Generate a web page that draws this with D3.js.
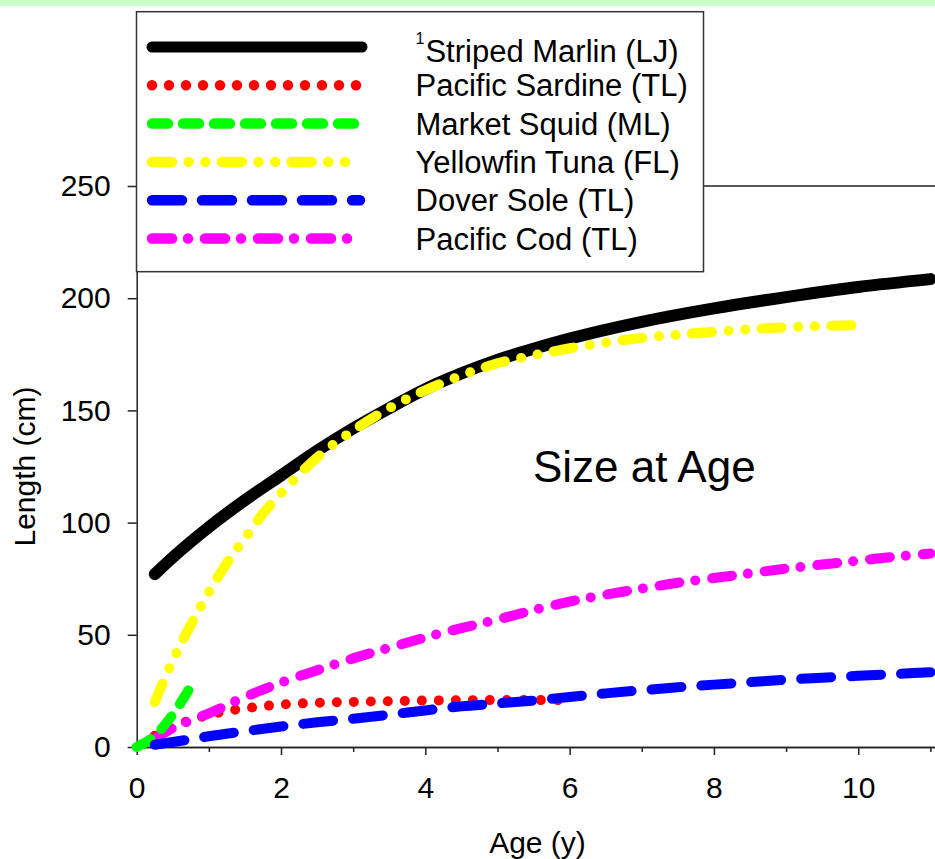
<!DOCTYPE html>
<html>
<head>
<meta charset="utf-8">
<script src="https://cdn.jsdelivr.net/npm/d3@7"></script>
<style>
  body { margin: 0; background: #fff; }
  svg text { font-family: "Liberation Sans", Arial, sans-serif; fill: #000; }
</style>
</head>
<body>
<svg id="canvas"></svg>
<script>
// values
const legendNames = ['Striped Marlin (LJ)', 'Pacific Sardine (TL)', 'Market Squid (ML)', 'Yellowfin Tuna (FL)', 'Dover Sole (TL)', 'Pacific Cod (TL)']

const marlinAge = [0.25, 0.5, 1, 1.5, 2, 2.5, 3, 3.5, 4, 4.5, 5, 5.5, 6, 7, 8, 9, 10, 11]
const marlinLen = [77, 84.5, 98, 110, 121, 132, 142, 151, 159.5, 166.5, 172.5, 177.5, 182, 189.5, 195.5, 200.5, 205, 208.5]

const sardineAge = [0.25, 0.5, 0.75, 1, 1.5, 2, 2.5, 3, 3.5, 4, 5, 5.9]
const sardineLen = [5, 9, 12, 14.3, 17.2, 18.9, 19.7, 20.1, 20.4, 20.7, 20.9, 20.9]

const squidAge = [0, 0.25, 0.5, 0.75]
const squidLen = [0, 5, 14.5, 27]

const tunaAge = [0.25, 0.5, 0.75, 1, 1.25, 1.5, 1.75, 2, 2.5, 3, 3.5, 4, 4.5, 5, 5.5, 6, 6.5, 7, 7.5, 8, 8.5, 9, 9.5, 10]
const tunaLen = [20, 38.5, 54.5, 69, 82, 93, 104, 113, 129, 141, 151, 159, 165.5, 171, 174.5, 177.7, 180.2, 182.3, 183.7, 185, 186.2, 187, 187.6, 188]

const soleAge = [0.25, 0.5, 1, 1.5, 2, 2.5, 3, 3.5, 4, 4.5, 5, 5.5, 6, 6.5, 7, 7.5, 8, 8.5, 9, 9.5, 10, 10.5, 11]
const soleLen = [1, 2.2, 4.8, 7, 9.1, 11, 12.6, 14.4, 16.3, 18.1, 19.4, 20.7, 22.3, 23.9, 25.3, 26.6, 27.8, 28.9, 30, 30.9, 31.7, 32.5, 33.3]

const codAge = [0.25, 0.5, 0.75, 1, 1.5, 2, 2.5, 3, 3.5, 4, 4.5, 5, 5.5, 6, 6.5, 7, 7.5, 8, 8.5, 9, 9.5, 10, 10.5, 11]
const codLen = [3.5, 8.5, 11.8, 15, 22.3, 28.7, 34.2, 39.5, 44.2, 48.8, 53, 56.8, 61, 64.8, 67.9, 70.6, 73.2, 75.3, 77.4, 79.5, 81.3, 83, 84.8, 86.2]

const yTicks = [0, 50, 100, 150, 200, 250]
const xTicks = [0, 2, 4, 6, 8, 10]
const xMinorTicks = [1, 3, 5, 7, 9, 11]

const width = 935
const height = 859

let zip = (a, b) => a.map((v, i) => [v, b[i]])

// legend order, with line style for each
let series = [
  { name: legendNames[0], pts: zip(marlinAge, marlinLen), color: '#000000', w: 12, dash: null },
  { name: legendNames[1], pts: zip(sardineAge, sardineLen), color: '#ff0000', w: 10, dash: '0,17' },
  { name: legendNames[2], pts: zip(squidAge, squidLen), color: '#00ff00', w: 10, dash: '16,15' },
  { name: legendNames[3], pts: zip(tunaAge, tunaLen), color: '#ffff00', w: 10, dash: '20,16.7,0,16.7,0,16.4' },
  { name: legendNames[4], pts: zip(soleAge, soleLen), color: '#0000ff', w: 10, dash: '30,20' },
  { name: legendNames[5], pts: zip(codAge, codLen), color: '#ff00ff', w: 10, dash: '20,16,0,17' }
]

let canvas = d3.select('#canvas')
canvas.attr('width', width).attr('height', height)

canvas.append('rect').attr('width', width).attr('height', height).attr('fill', '#fff')
canvas.append('rect').attr('width', width).attr('height', 6).attr('fill', '#ccffcc')

let xScale = d3.scaleLinear().domain([0, 11.1]).range([136.7, 937.6])
let yScale = d3.scaleLinear().domain([0, 250]).range([747, 186])

// top frame
canvas.append('line')
  .attr('x1', xScale(0)).attr('x2', xScale(11.1))
  .attr('y1', yScale(250)).attr('y2', yScale(250))
  .attr('stroke', '#222').attr('stroke-width', 1.5)

let styleAxis = (g) => {
  g.select('.domain').attr('stroke', '#222').attr('stroke-width', 1.5)
  g.selectAll('.tick line').attr('stroke', '#222').attr('stroke-width', 1.5)
  g.selectAll('text').style('font-size', '30px').attr('fill', '#000')
}

canvas.append('g')
  .attr('transform', 'translate(0,' + yScale(0) + ')')
  .call(d3.axisBottom(xScale).tickValues(xMinorTicks).tickSize(5).tickSizeOuter(0).tickFormat(''))
  .call(styleAxis)

canvas.append('g')
  .attr('transform', 'translate(0,' + yScale(0) + ')')
  .call(d3.axisBottom(xScale).tickValues(xTicks).tickSize(8).tickPadding(22).tickSizeOuter(0).tickFormat(d3.format('d')))
  .call(styleAxis)

canvas.append('g')
  .attr('transform', 'translate(' + xScale(0) + ',0)')
  .call(d3.axisLeft(yScale).tickValues(yTicks).tickSize(9).tickPadding(17).tickSizeOuter(0))
  .call(styleAxis)

let line = d3.line()
  .x(d => xScale(d[0]))
  .y(d => yScale(d[1]))
  .curve(d3.curveMonotoneX)

let drawOrder = [0, 3, 1, 5, 2, 4]
drawOrder.forEach(i => {
  let s = series[i]
  canvas.append('path')
    .attr('d', line(s.pts))
    .attr('fill', 'none')
    .attr('stroke', s.color)
    .attr('stroke-width', s.w)
    .attr('stroke-linecap', 'round')
    .attr('stroke-linejoin', 'round')
    .attr('stroke-dasharray', s.dash)
})

canvas.append('text')
  .attr('x', 533).attr('y', 481.7)
  .style('font-size', '44px')
  .text('Size at Age')

canvas.append('text')
  .attr('transform', 'translate(35,466.5) rotate(-90)')
  .attr('text-anchor', 'middle')
  .style('font-size', '30px')
  .text('Length (cm)')

canvas.append('text')
  .attr('x', 537.5).attr('y', 853)
  .attr('text-anchor', 'middle')
  .style('font-size', '30px')
  .text('Age (y)')

// legend
let legend = canvas.append('g')
legend.append('rect')
  .attr('x', 136.5).attr('y', 11.7)
  .attr('width', 567).attr('height', 260)
  .attr('fill', '#fff')
  .attr('stroke', '#333').attr('stroke-width', 1.5)

series.forEach((s, i) => {
  let cy = 47 + i * 38.3
  legend.append('line')
    .attr('x1', 152).attr('x2', i === 0 ? 362 : 360)
    .attr('y1', cy).attr('y2', cy)
    .attr('stroke', s.color)
    .attr('stroke-width', i === 0 ? 11 : 10.5)
    .attr('stroke-linecap', 'round')
    .attr('stroke-dasharray', s.dash)

  let t = legend.append('text')
    .attr('x', 415.5)
    .attr('y', cy + (i === 0 ? 14.7 : 11))
    .style('font-size', '31px')
  if (i === 0) {
    t.append('tspan').style('font-size', '16px').attr('dy', -18).text('1')
    t.append('tspan').attr('dy', 18).attr('dx', 1).text(s.name)
  } else {
    t.text(s.name)
  }
})
</script>
</body>
</html>
